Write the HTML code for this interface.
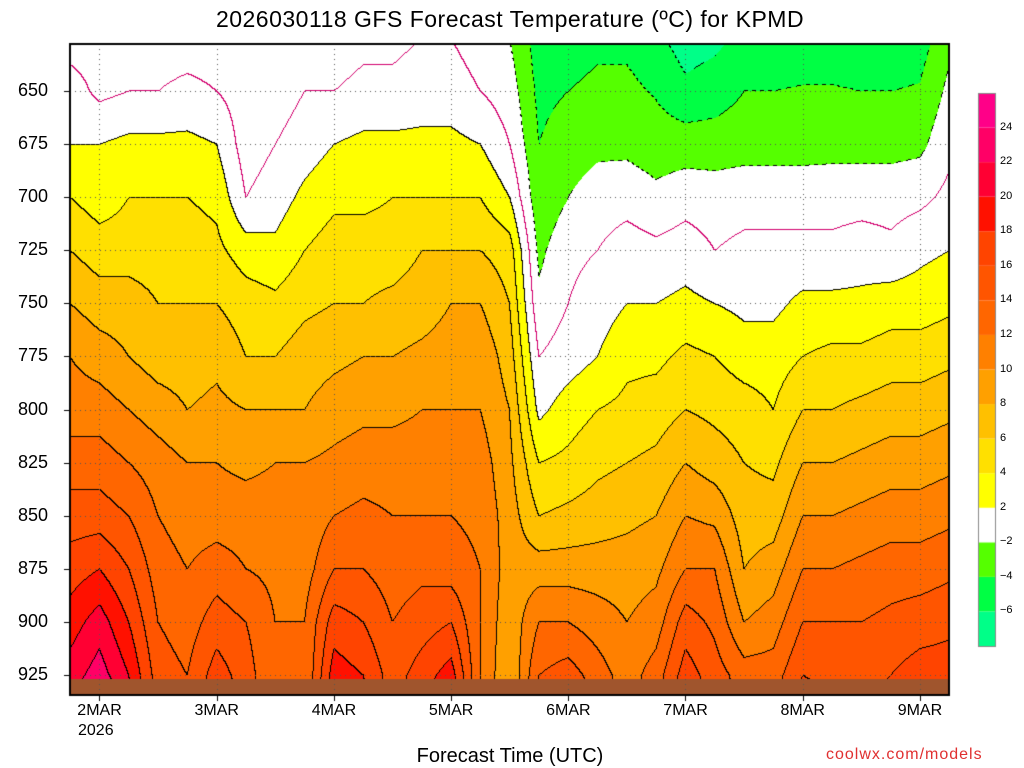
<!DOCTYPE html>
<html><head><meta charset="utf-8"><style>
body{margin:0;background:#fff;width:1024px;height:768px;overflow:hidden;position:relative;font-family:"Liberation Sans",sans-serif}
.t{position:absolute;color:#000;white-space:nowrap}
canvas{position:absolute;left:0;top:0}
</style></head><body>
<canvas id="c" width="1024" height="768"></canvas>
<div class="t" style="left:0;width:1020px;text-align:center;top:6px;font-size:23px;letter-spacing:0.5px">2026030118 GFS Forecast Temperature (ºC) for KPMD</div>
<div class="t" style="left:0;width:1020px;text-align:center;top:745px;font-size:20px">Forecast Time (UTC)</div>
<div class="t" style="left:826px;top:746px;font-size:16px;color:#e03030;letter-spacing:1px">coolwx.com/models</div>
<div class="t" style="left:78px;top:722px;font-size:16px">2026</div>
<div id="labels"></div>
<script>
const times=[...Array(31).keys()];
const levels=[625,650,675,700,725,750,775,800,825,850,875,900,925,940];
const temps=[
[-1,1,2,4,6,8,10,11,13,15,17,19,21,22],
[-1,-0.5,2,3,5,7,9,11,13,15,18,21,23,25],
[-1,0,2.5,4,5,7,8,10,12,14,16,18,20,21],
[-1,0,2.5,4,5,6,7,9,11,12,13,14,15,15],
[-1,0.5,2.5,4,5,6,7,8,10,11,12,13,14,14],
[-1,0,2,3.5,4.5,6,7.5,8.5,10,11,13,15,17,18],
[-1,-1,-1,0,3,5,6,8,9.5,11,12,14,15,15],
[-1,-1,0,1,2.5,4.5,6,8,10,11,11.5,12,12,12],
[-1,0,1,2.5,4,5.5,7,8,10,10.5,11,12,12,12],
[-1,0,2,3.5,5,6,7.5,9,10.5,12,14,17,19,20],
[-0.5,0.5,2.5,3.5,5,6,8,9.5,11,12.5,14,16,18,19],
[-0.5,0.5,2.5,4,5,6.5,8,9.5,11,12,13,14,15,15],
[0,1,2.5,4,6,7,8.5,10,11,12,13.5,15,17,18],
[0,1,2.5,4,6,8,9,10,11,12,13,16,19,20],
[-1,0,2,4,6,8,9.5,10,11,11.5,12,12,12,12],
[-2,-1,0,2,5,6,7,8,8.5,9,9,8.5,8,8],
[-5,-4.5,-4,-3.5,-2.5,-1.5,0,1.5,4,6,9,12,14,15],
[-5,-4,-3,-2,-0.5,0,1,3,4.5,6.5,9,12,15,16],
[-4.5,-3.5,-2.5,-1,0,1,2,4,5.5,7,9,11,13,14],
[-4.5,-3.5,-2.5,-0.8,1,2,3.5,4.5,6,7.5,9,10,11,11],
[-5.5,-4.2,-3,-1.5,0.5,2,3.5,5,6.5,8,9.5,11,13,13],
[-7,-5.5,-3,-0.8,1,2.5,4.5,6,8,10,12,15,17,18],
[-6.5,-5,-3,-1,0,2,4,5.5,7,9.5,12,13.5,15,15],
[-5.5,-4,-2.8,-0.8,0.5,1.5,3,5,6,7,8,10,13,14],
[-5.5,-4,-2.8,-0.8,0.5,1.5,3,4,5.5,7,9,11,13,14],
[-5.5,-3.8,-2.8,-0.8,0.5,2.5,4,6,8,10,12,14,16,17],
[-5.5,-3.8,-2.7,-0.8,0.5,2.5,4.5,6,8,10,12,14,15.5,16],
[-5.5,-4,-2.7,-0.8,1,2.5,4.5,6.5,8.5,10.5,12.5,14,15.5,16],
[-5.5,-4,-2.7,-0.8,0.5,3,5,7,9,11,13,14.5,16,16.5],
[-5,-3.8,-2.5,-0.5,1.5,3,5,7,9,11,13,15,17,18],
[-2.5,-1.5,-0.5,0.5,2,3.5,5.5,7.5,9.5,11.5,13.5,15.5,17,17]];
const yTicks=[650,675,700,725,750,775,800,825,850,875,900,925];
const dayLabels=["2MAR","3MAR","4MAR","5MAR","6MAR","7MAR","8MAR","9MAR"];
const bins=[-6,-4,-2,2,4,6,8,10,12,14,16,18,20,22,24];
const binColors=["#00ff88","#00ff44","#55ff00","#ffffff","#ffff00","#ffe000","#ffc000","#ffa000","#ff8000","#ff6600","#ff5500","#ff4400","#ff1100","#ff0033","#ff0066","#ff0088"];

const L=70,R=949,T=44,B=695;
const xOf=i=>L+i*(R-L)/(times.length-1);
const yOf=p=>91+(p-650)/25*53.09;
const pOfY=y=>650+(y-91)/53.09*25;
const c=document.getElementById('c'),ctx=c.getContext('2d');
function T_at(x,y){
  let fi=(x-L)/(R-L)*(times.length-1);fi=Math.max(0,Math.min(times.length-1.0001,fi));
  const i=Math.floor(fi),fx=fi-i;
  let p=pOfY(y);p=Math.max(levels[0],Math.min(levels[levels.length-1]-0.001,p));
  let j=0;while(levels[j+1]<p)j++;
  const fy=(p-levels[j])/(levels[j+1]-levels[j]);
  const a=temps[i][j]*(1-fx)+temps[i+1][j]*fx,b=temps[i][j+1]*(1-fx)+temps[i+1][j+1]*fx;
  return a*(1-fy)+b*fy;
}
const binOf=t=>{let k=0;while(k<bins.length&&t>=bins[k])k++;return k;};
const W=R-L,H=B-T;
const grid=new Float32Array(W*H);
for(let y=0;y<H;y++)for(let x=0;x<W;x++)grid[y*W+x]=T_at(L+x,T+y);
const img=ctx.createImageData(W,H);
const rgb=binColors.map(h=>[parseInt(h.substr(1,2),16),parseInt(h.substr(3,2),16),parseInt(h.substr(5,2),16)]);
const lvl=t=>Math.floor(t/2);
for(let y=0;y<H;y++)for(let x=0;x<W;x++){
  const k=y*W+x,t=grid[k];let col=rgb[binOf(t)];
  const l=lvl(t);
  let edge=false,edgeVal=0;
  if(x<W-1&&lvl(grid[k+1])!==l){edge=true;edgeVal=Math.max(l,lvl(grid[k+1]))*2;}
  if(y<H-1&&lvl(grid[k+W])!==l){edge=true;edgeVal=Math.max(l,lvl(grid[k+W]))*2;}
  if(edge){
    if(edgeVal===0)col=[210,0,110];
    else if(edgeVal<0){col=((x+y)%8<4)?[0,0,0]:col;}
    else col=[0,0,0];
  }
  const o=k*4;img.data[o]=col[0];img.data[o+1]=col[1];img.data[o+2]=col[2];img.data[o+3]=255;
}
ctx.putImageData(img,L,T);
ctx.fillStyle="#a0552d";ctx.fillRect(L,679,W,B-679);
ctx.strokeStyle="#555";ctx.lineWidth=1;ctx.setLineDash([1,4]);
yTicks.forEach(p=>{ctx.beginPath();ctx.moveTo(L,Math.round(yOf(p))+0.5);ctx.lineTo(R,Math.round(yOf(p))+0.5);ctx.stroke();});
dayLabels.forEach((d,k)=>{const x=Math.round(xOf(1+4*k))+0.5;ctx.beginPath();ctx.moveTo(x,T);ctx.lineTo(x,B);ctx.stroke();});
ctx.setLineDash([]);
ctx.strokeStyle="#000";ctx.lineWidth=2;ctx.strokeRect(L,T,W,H);
ctx.lineWidth=1;
yTicks.forEach(p=>{const y=Math.round(yOf(p))+0.5;ctx.beginPath();ctx.moveTo(L-6,y);ctx.lineTo(L,y);ctx.stroke();});
dayLabels.forEach((d,k)=>{const x=Math.round(xOf(1+4*k))+0.5;ctx.beginPath();ctx.moveTo(x,B);ctx.lineTo(x,B+6);ctx.stroke();});
const cbX=978,cbY=93,cbW=17,cbH=553,bh=cbH/binColors.length;
binColors.forEach((col,k)=>{ctx.fillStyle=col;ctx.fillRect(cbX,cbY+cbH-(k+1)*bh,cbW,bh);});
ctx.strokeStyle="#888";ctx.strokeRect(cbX+0.5,cbY+0.5,cbW,cbH);
const labels=document.getElementById('labels');
yTicks.forEach(p=>{
  const d=document.createElement('div');d.className='t';
  
  
  d.style.cssText=`left:18px;top:${yOf(p)-11}px;font-size:18px`;d.textContent=p;labels.appendChild(d);
});
dayLabels.forEach((s,k)=>{
  const d=document.createElement('div');d.className='t';
  
  
  d.style.cssText=`left:${xOf(1+4*k)-22}px;top:702px;font-size:16px`;d.textContent=s;labels.appendChild(d);
});
bins.forEach((b,k)=>{
  if(b<-6)return;
  const d=document.createElement('div');d.className='t';
  
  
  d.style.cssText=`left:1000px;top:${cbY+cbH-(k+1)*bh-7}px;font-size:11px`;d.textContent=b<0?'\u2212'+(-b):b;labels.appendChild(d);
});
</script>
</body></html>
